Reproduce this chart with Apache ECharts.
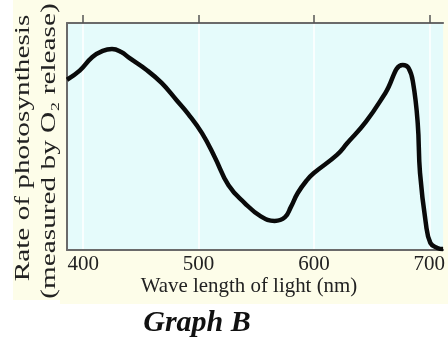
<!DOCTYPE html>
<html>
<head>
<meta charset="utf-8">
<title>Graph B</title>
<script src="https://cdn.jsdelivr.net/npm/echarts@6/dist/echarts.min.js"></script>
<style>
  html, body { margin: 0; padding: 0; background: #fff; }
  #main { width: 448px; height: 342px; }
</style>
</head>
<body>
<div id="main"></div>
<script>
// wavelength (nm)
var wavelength = [386, 397, 408, 417, 425, 433, 440, 455, 468, 481, 491, 503, 514, 526, 540,
  554, 566, 575, 580, 586, 594, 600, 620, 629, 645, 662, 677, 682, 686, 690, 692, 697, 701, 707, 712];
// relative rate (0 = bottom axis, 100 = top)
var rate = [75, 79, 85, 87.7, 88.5, 87.2, 84.6, 79.3, 73.6, 66, 60, 51.5, 41, 28.5, 20.7,
  14.8, 12.8, 14.5, 18.9, 25.1, 30.8, 33.9, 41.9, 47.1, 56.4, 69.2, 81.5, 80.2, 73.6, 55.9, 33.9, 11.9, 3.1, 0.9, 0.4];
var tickValues = [400, 500, 600, 700];

var points = [];
for (var i = 0; i < wavelength.length; i++) {
  points.push([wavelength[i], rate[i]]);
}

var serif = '"Liberation Serif", "DejaVu Serif", serif';
var chart = echarts.init(document.getElementById('main'));

chart.setOption({
  animation: false,
  backgroundColor: '#fff',
  graphic: [
    { type: 'rect', z: -10, shape: { x: 13, y: 0, width: 435, height: 300 }, style: { fill: '#fdfde9' } },
    { type: 'rect', z: -10, shape: { x: 60, y: 300, width: 388, height: 4 }, style: { fill: '#fdfde9' } },
    // y title, stretched along its length like the picture
    { type: 'text', x: 23, y: 148, rotation: Math.PI / 2, scaleX: 1.33,
      style: { text: 'Rate of photosynthesis', font: '22px ' + serif, fill: '#222', align: 'center', verticalAlign: 'middle' } },
    { type: 'text', x: 49, y: 151, rotation: Math.PI / 2, scaleX: 1.33,
      style: { text: '(measured by O\u2082 release)', font: '22px ' + serif, fill: '#222', align: 'center', verticalAlign: 'middle' } },
    { type: 'text', x: 249, y: 286, scaleX: 0.95,
      style: { text: 'Wave length of light (nm)', font: '22px ' + serif, fill: '#222', align: 'center', verticalAlign: 'middle' } },
    { type: 'text', x: 197, y: 323,
      style: { text: 'Graph B', font: 'italic bold 30px ' + serif, fill: '#111', align: 'center', verticalAlign: 'middle' } }
  ],
  grid: { left: 67, top: 23, right: 0, bottom: 92, show: true, backgroundColor: '#e5fbfb', borderWidth: 0 },
  xAxis: [{
    type: 'value', position: 'bottom', min: 386, max: 712,
    axisLine: { show: true, lineStyle: { color: '#6a6a6a', width: 2 } },
    axisTick: { show: false, customValues: tickValues },
    axisLabel: { customValues: tickValues, color: '#222', fontFamily: serif, fontSize: 21, margin: 4 },
    splitLine: { show: true, lineStyle: { color: '#ffffff', width: 1.5 } }
  }, {
    type: 'value', position: 'top', min: 386, max: 712,
    axisLine: { show: true, lineStyle: { color: '#6a6a6a', width: 2 } },
    axisTick: { show: true, customValues: tickValues, inside: false, length: 8, lineStyle: { color: '#555', width: 1.5 } },
    axisLabel: { show: false },
    splitLine: { show: false }
  }],
  yAxis: {
    type: 'value', min: 0, max: 100,
    axisLine: { show: true, lineStyle: { color: '#6a6a6a', width: 2 } },
    axisTick: { show: false },
    axisLabel: { show: false },
    splitLine: { show: false }
  },
  series: [{
    type: 'line',
    xAxisIndex: 0,
    data: points,
    smooth: 0.45,
    showSymbol: false,
    lineStyle: { color: '#0a0a0a', width: 4.5 }
  }]
});
</script>
</body>
</html>
